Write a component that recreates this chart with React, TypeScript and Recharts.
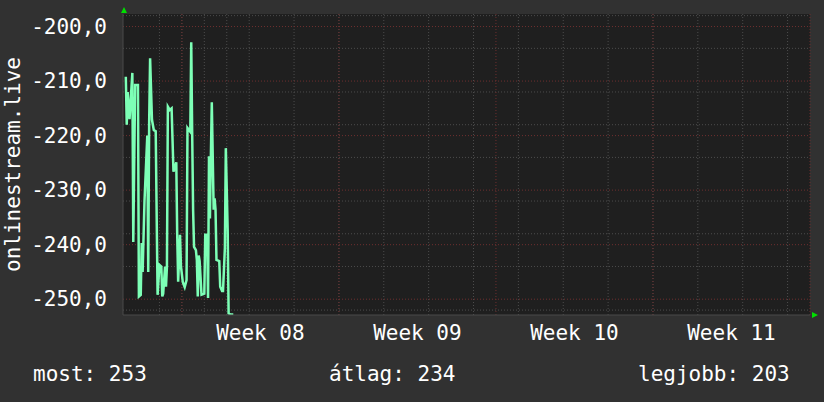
import { LineChart, Line, XAxis, YAxis, CartesianGrid } from 'recharts';

// time in hours since the start of week 08, value in the plotted (negative) unit
const hours = [
    -60, -59, -58, -56, -53, -52, -50, -47, -46, -44, -43, -42, -40, -37, -36, -35, -34, -32, -30, -28,
    -26, -24, -22, -21, -20, -18, -17, -16, -15, -13, -11, -9, -6, -5, -4, -2, -1, 1, 3, 5,
    6, 9, 10, 11, 12, 13, 15, 16, 17, 18, 19, 21, 24, 25, 27, 28, 29, 30, 31, 32,
    34, 35, 36, 37, 40, 41, 43, 44, 46, 47, 49, 50, 52, 55,
];
const values = [
    -209.2, -218, -212, -217, -208.5, -239.5, -210.7, -210.7, -249.5, -249.2, -239.7, -245, -232, -220, -245, -217.4, -205.8, -217.1, -219, -219.2,
    -249.2, -243.7, -244, -249.5, -249, -244, -247.7, -244, -214.7, -215.3, -215, -226.6, -224.9, -238.2, -246.8, -238.2, -244, -246.9, -247.8, -246.5,
    -218.6, -219.3, -202.9, -219.3, -233.6, -240.4, -241, -242.8, -249.5, -242, -243, -249.2, -249, -238.2, -238.2, -249.8, -223.8, -235.2, -223.8, -213.9,
    -233.6, -231.5, -233.6, -242.8, -243, -247.7, -248.5, -248.5, -240.6, -222.3, -237.4, -252.6, -252.8, -252.8,
];

const weekLabels = ['Week 08', 'Week 09', 'Week 10', 'Week 11'];
const weekCenters = [84, 252, 420, 588];
const weekLines = [0, 168, 336, 504, 672];
const dayLines = Array.from({ length: 30 }, (_, i) => -48 + i * 24);
const yTicks = [-250, -240, -230, -220, -210, -200];
const yMinor = [-252, -248, -246, -244, -242, -238, -236, -234, -232, -228, -226, -224, -222, -218, -216, -214, -212, -208, -206, -204, -202, -198];

const summary = [
    { label: 'most', value: 253, left: 33 },
    { label: 'átlag', value: 234, left: 329 },
    { label: 'legjobb', value: 203, left: 638 },
];

const data = hours.map((h, i) => ({ h, v: values[i] }));

const font = '"DejaVu Sans Mono", monospace';

export default function App() {
    return (
        <div
            style={{
                position: 'absolute',
                left: 0,
                top: 0,
                width: 824,
                height: 402,
                background: '#313131',
                fontFamily: font,
            }}
        >
            <LineChart
                width={824}
                height={402}
                data={data}
                margin={{ top: 14, right: 14, left: 0, bottom: 0 }}
            >
                <CartesianGrid
                    fill="#1f1f1f"
                    stroke="#4c4c4c"
                    strokeWidth={1}
                    strokeDasharray="1 2"
                    verticalValues={dayLines}
                    horizontalValues={yMinor}
                />
                <CartesianGrid
                    stroke="#6e2f2f"
                    strokeDasharray="1 2"
                    verticalValues={weekLines}
                    horizontalValues={yTicks}
                />
                <XAxis
                    dataKey="h"
                    type="number"
                    domain={[-63, 672]}
                    allowDataOverflow
                    ticks={weekCenters}
                    height={87}
                    axisLine={{ stroke: '#4a4a4a' }}
                    tickLine={false}
                    tick={({ x, y, index }) => (
                        <text
                            x={x}
                            y={y + 10}
                            textAnchor="middle"
                            dominantBaseline="central"
                            fill="#ffffff"
                            fontFamily={font}
                            fontSize={21}
                        >
                            {weekLabels[index]}
                        </text>
                    )}
                />
                <YAxis
                    type="number"
                    domain={[-252.9, -197.7]}
                    allowDataOverflow
                    ticks={yTicks}
                    width={123}
                    axisLine={{ stroke: '#4a4a4a' }}
                    tickLine={false}
                    tick={({ x, y, payload }) => (
                        <text
                            x={x - 8}
                            y={y}
                            textAnchor="end"
                            dominantBaseline="central"
                            fill="#ffffff"
                            fontFamily={font}
                            fontSize={21}
                        >
                            {payload.value.toFixed(1).replace('.', ',')}
                        </text>
                    )}
                    label={({ viewBox }) => (
                        <text
                            x={13}
                            y={viewBox.y + viewBox.height / 2}
                            transform={`rotate(-90 13 ${viewBox.y + viewBox.height / 2})`}
                            textAnchor="middle"
                            dominantBaseline="central"
                            fill="#ffffff"
                            fontFamily={font}
                            fontSize={21}
                        >
                            onlinestream.live
                        </text>
                    )}
                />
                <Line
                    type="linear"
                    dataKey="v"
                    stroke="#7dffb6"
                    strokeWidth={2.5}
                    strokeLinejoin="miter"
                    dot={false}
                    isAnimationActive={false}
                />
            </LineChart>

            {/* axis arrows */}
            <svg width={824} height={402} style={{ position: 'absolute', left: 0, top: 0, pointerEvents: 'none' }}>
                <polygon points="121,13 127,13 124,7" fill="#00e000" />
                <polygon points="812,312 812,318 818,315" fill="#00e000" />
            </svg>

            {summary.map((s) => (
                <div
                    key={s.label}
                    style={{
                        position: 'absolute',
                        left: s.left,
                        top: 362,
                        color: '#ffffff',
                        fontSize: 21,
                        lineHeight: '24px',
                        whiteSpace: 'pre',
                    }}
                >
                    {`${s.label}: ${s.value}`}
                </div>
            ))}
        </div>
    );
}
